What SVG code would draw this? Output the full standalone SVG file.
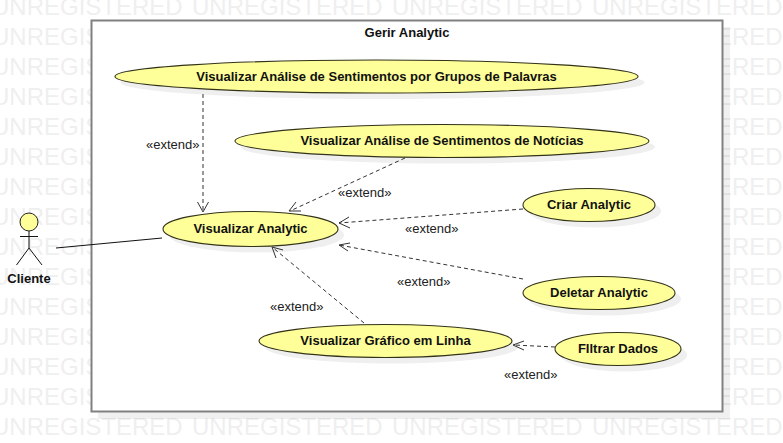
<svg xmlns="http://www.w3.org/2000/svg" width="783" height="443" viewBox="0 0 783 443">
<style>
text{font-family:"Liberation Sans",Arial,sans-serif;fill:#111}
.wm{font-size:24px;fill:#efefef}
.uc ellipse.b{fill:#ffff99;stroke:#33331a;stroke-width:1.1}
.uc ellipse.s{fill:#efefef;stroke:none}
.n{font-size:13px;font-weight:bold;text-anchor:middle}
.l{font-size:13px;fill:#222}
.d{fill:none;stroke:#333;stroke-width:1;stroke-dasharray:4 3}
.h{fill:none;stroke:#333;stroke-width:1}
.a{fill:none;stroke:#111;stroke-width:1}
</style>
<rect width="783" height="443" fill="#fff"/>
<defs>
<g id="wr"><text class="wm" x="-8" y="0">UNREGISTERED</text><text class="wm" x="192" y="0">UNREGISTERED</text><text class="wm" x="392" y="0">UNREGISTERED</text><text class="wm" x="592" y="0">UNREGISTERED</text></g>
</defs>
<g id="watermark">
<use href="#wr" y="15"/><use href="#wr" y="45"/><use href="#wr" y="75"/><use href="#wr" y="105"/><use href="#wr" y="135"/><use href="#wr" y="165"/><use href="#wr" y="195"/><use href="#wr" y="225"/><use href="#wr" y="255"/><use href="#wr" y="285"/><use href="#wr" y="315"/><use href="#wr" y="345"/><use href="#wr" y="375"/><use href="#wr" y="405"/><use href="#wr" y="435"/>
</g>
<g id="frame">
<rect x="98" y="27" width="632" height="392" fill="#000" fill-opacity="0.06"/>
<rect x="91.500" y="20.500" width="631" height="391" fill="#fff" stroke="#808080" stroke-width="2"/>
<text class="n" x="407" y="37">Gerir Analytic</text>
</g>
<g id="uc1" class="uc"><ellipse class="s" cx="382.500" cy="82.500" rx="262" ry="16.500"/><ellipse class="b" cx="376.500" cy="76.500" rx="261.500" ry="16.500"/><text class="n" x="376.500" y="81">Visualizar Análise de Sentimentos por Grupos de Palavras</text></g>
<g id="uc2" class="uc"><ellipse class="s" cx="448" cy="147" rx="207" ry="16.500"/><ellipse class="b" cx="442" cy="141" rx="207" ry="16.500"/><text class="n" x="442" y="145">Visualizar Análise de Sentimentos de Notícias</text></g>
<g id="uc3" class="uc"><ellipse class="s" cx="595" cy="211" rx="66" ry="16.500"/><ellipse class="b" cx="589" cy="205" rx="66" ry="16.500"/><text class="n" x="589" y="209">Criar Analytic</text></g>
<g id="uc4" class="uc"><ellipse class="s" cx="256.500" cy="235" rx="87.500" ry="17.500"/><ellipse class="b" cx="250.500" cy="229" rx="87.500" ry="17.500"/><text class="n" x="250.500" y="233">Visualizar Analytic</text></g>
<g id="uc5" class="uc"><ellipse class="s" cx="605" cy="299" rx="76" ry="16.500"/><ellipse class="b" cx="599" cy="293" rx="76" ry="16.500"/><text class="n" x="599" y="297">Deletar Analytic</text></g>
<g id="uc6" class="uc"><ellipse class="s" cx="391.500" cy="347" rx="126.500" ry="16.500"/><ellipse class="b" cx="385.500" cy="341" rx="126.500" ry="16.500"/><text class="n" x="385.500" y="345">Visualizar Gráfico em Linha</text></g>
<g id="uc7" class="uc"><ellipse class="s" cx="624" cy="355" rx="63" ry="16.500"/><ellipse class="b" cx="618" cy="349" rx="63" ry="16.500"/><text class="n" x="618" y="353">FIltrar Dados</text></g>
<g id="connectors">
<path class="d" d="M203 94V211"/><path class="h" d="M197.500 202L203 212L208.500 202"/>
<path class="d" d="M405 158L290 211"/><path class="h" d="M296 202L289 211L301 211"/>
<path class="d" d="M523 209L339 223"/><path class="h" d="M349 217L339 223L350 228"/>
<path class="d" d="M523 279L339 245"/><path class="h" d="M350 243L339 245L348 251"/>
<path class="d" d="M364 323L272 247"/><path class="h" d="M283 250L272 247L276 258"/>
<path class="d" d="M555 347L514 345"/><path class="h" d="M524 341L513 345L524 350"/>
<path class="a" d="M56 248L162 238"/>
</g>
<g id="labels">
<text class="l" x="146" y="149">«extend»</text>
<text class="l" x="338" y="197">«extend»</text>
<text class="l" x="405" y="233">«extend»</text>
<text class="l" x="397" y="286">«extend»</text>
<text class="l" x="270" y="311">«extend»</text>
<text class="l" x="504" y="379">«extend»</text>
</g>
<g id="actor">
<circle cx="29" cy="222" r="9" fill="#ffff99" stroke="#222" stroke-width="1"/>
<path class="a" d="M29 231V248M20 236.500H38M29 248L16.500 265M29 248L42 265"/>
<text class="n" x="29" y="283">Cliente</text>
</g>
</svg>
